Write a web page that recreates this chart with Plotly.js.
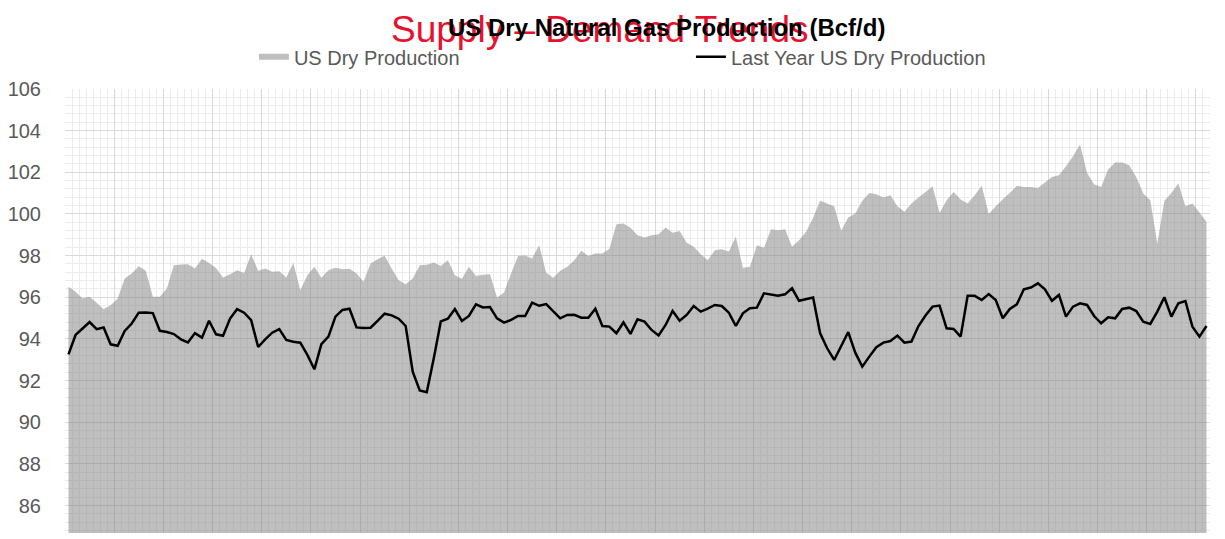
<!DOCTYPE html>
<html>
<head>
<meta charset="utf-8">
<script src="https://cdn.plot.ly/plotly-3.0.1.min.js"></script>
<style>html,body{margin:0;padding:0;background:#fff;}#chart{width:1225px;height:539px;}</style>
</head>
<body>
<div id="chart"></div>
<script>
// US Dry Production (Bcf/d), one value per period
const usDryProduction = [
96.5, 96.26, 95.94, 96.02, 95.74, 95.43, 95.62, 95.94, 96.9, 97.14,
97.49, 97.27, 96.02, 96.02, 96.42, 97.54, 97.57, 97.59, 97.38, 97.85,
97.65, 97.41, 96.95, 97.11, 97.3, 97.17, 98.07, 97.27, 97.38, 97.22,
97.25, 96.95, 97.65, 96.34, 97.06, 97.46, 96.94, 97.3, 97.42, 97.34,
97.37, 97.14, 96.74, 97.62, 97.83, 97.99, 97.38, 96.82, 96.63, 96.9,
97.54, 97.56, 97.67, 97.5, 97.78, 97.06, 96.89, 97.46, 97.02, 97.08,
97.1, 95.99, 96.23, 97.14, 97.98, 98.0, 97.86, 98.5, 97.18, 96.94,
97.27, 97.46, 97.78, 98.23, 97.98, 98.1, 98.1, 98.33, 99.51, 99.54,
99.34, 98.98, 98.87, 98.98, 99.03, 99.35, 99.1, 99.18, 98.62, 98.42,
98.06, 97.78, 98.26, 98.3, 98.2, 98.9, 97.42, 97.46, 98.5, 98.38,
99.26, 99.22, 99.27, 98.42, 98.74, 99.14, 99.82, 100.63, 100.5, 100.37,
99.19, 99.83, 100.02, 100.63, 101.01, 100.95, 100.79, 100.9, 100.37, 100.1,
100.5, 100.79, 101.06, 101.33, 100.06, 100.66, 101.05, 100.69, 100.5, 100.9,
101.35, 100.0, 100.37, 100.71, 101.01, 101.35, 101.3, 101.29, 101.25, 101.51,
101.78, 101.86, 102.29, 102.77, 103.33, 101.97, 101.43, 101.3, 102.13, 102.47,
102.47, 102.34, 101.78, 100.98, 100.66, 98.58, 100.63, 101.01, 101.46, 100.37,
100.5, 100.07, 99.62
];
// Last Year US Dry Production (Bcf/d)
const lastYearProduction = [
93.26, 94.19, 94.5, 94.81, 94.47, 94.55, 93.74, 93.67, 94.38, 94.74,
95.26, 95.27, 95.24, 94.39, 94.33, 94.23, 93.98, 93.83, 94.28, 94.06,
94.87, 94.22, 94.15, 94.98, 95.43, 95.26, 94.9, 93.61, 93.98, 94.3,
94.47, 93.95, 93.86, 93.82, 93.23, 92.54, 93.75, 94.11, 95.07, 95.39,
95.45, 94.55, 94.52, 94.54, 94.87, 95.21, 95.13, 94.97, 94.62, 92.43,
91.52, 91.44, 93.07, 94.84, 94.97, 95.43, 94.86, 95.1, 95.66, 95.51,
95.53, 94.99, 94.78, 94.91, 95.1, 95.1, 95.74, 95.59, 95.67, 95.31,
94.99, 95.15, 95.16, 95.02, 95.02, 95.45, 94.62, 94.59, 94.27, 94.79,
94.24, 94.94, 94.83, 94.43, 94.17, 94.67, 95.34, 94.87, 95.15, 95.58,
95.31, 95.45, 95.63, 95.58, 95.26, 94.62, 95.23, 95.47, 95.5, 96.19,
96.12, 96.07, 96.14, 96.43, 95.83, 95.9, 95.99, 94.27, 93.55, 92.99,
93.66, 94.33, 93.34, 92.67, 93.15, 93.6, 93.82, 93.9, 94.16, 93.82,
93.87, 94.62, 95.12, 95.55, 95.6, 94.51, 94.48, 94.11, 96.07, 96.07,
95.87, 96.15, 95.87, 94.99, 95.44, 95.66, 96.38, 96.47, 96.67, 96.38,
95.83, 96.11, 95.07, 95.55, 95.71, 95.63, 95.1, 94.75, 95.04, 94.99,
95.44, 95.5, 95.34, 94.83, 94.72, 95.31, 96.0, 95.07, 95.71, 95.82,
94.59, 94.11, 94.62
];
// period index (category positions)
const periods = usDryProduction.map((_, i) => i);
const yTickValues = [86, 88, 90, 92, 94, 96, 98, 100, 102, 104, 106];

const FONT = 'Liberation Sans, Arial, sans-serif';

const traces = [
  {
    type: 'scatter', x: periods, y: usDryProduction, name: 'US Dry Production',
    mode: 'none', fill: 'tozeroy', fillcolor: 'rgba(127,127,127,0.5)',
    hoverinfo: 'skip'
  },
  {
    type: 'scatter', x: periods, y: lastYearProduction, name: 'Last Year US Dry Production',
    mode: 'lines', line: {color: '#000000', width: 2.5}
  }
];

const layout = {
  width: 1225, height: 539,
  margin: {l: 65, r: 15, t: 89, b: 6, pad: 0},
  paper_bgcolor: '#ffffff', plot_bgcolor: '#ffffff',
  font: {family: FONT, color: '#595959', size: 20},
  showlegend: true,
  legend: {
    orientation: 'h', x: 0.165, xanchor: 'left', y: 1.0725, yanchor: 'middle',
    font: {family: FONT, size: 20, color: '#595959'},
    entrywidth: 392, entrywidthmode: 'pixels',
    bgcolor: 'rgba(0,0,0,0)', itemclick: false
  },
  title: {text: ''},
  xaxis: {
    range: [-0.5, periods.length - 0.5],
    showticklabels: false, ticks: '', zeroline: false, showline: false,
    tick0: -0.5, dtick: 7, showgrid: true, gridcolor: '#d9d9d9', gridwidth: 1,
    minor: {tick0: -0.5, dtick: 1, showgrid: true, gridcolor: '#ececec', gridwidth: 1}
  },
  yaxis: {
    range: [84.68, 106],
    tickmode: 'array', tickvals: yTickValues, ticktext: yTickValues.map(String),
    ticks: 'outside', ticklen: 19, tickcolor: 'rgba(0,0,0,0)',
    tickfont: {family: FONT, size: 20, color: '#595959'},
    zeroline: false, showline: false,
    showgrid: true, gridcolor: '#d9d9d9', gridwidth: 1,
    minor: {tick0: 0, dtick: 0.4, showgrid: true, gridcolor: '#ececec', gridwidth: 1}
  },
  annotations: [
    {
      text: 'Supply – Demand Trends', xref: 'paper', yref: 'paper',
      x: 0.467, y: 1.1345, xanchor: 'center', yanchor: 'middle', showarrow: false,
      font: {family: FONT, size: 37, color: '#e8112d'}
    },
    {
      text: '<b>US Dry Natural Gas Production (Bcf/d)</b>', xref: 'paper', yref: 'paper',
      x: 0.525, y: 1.139, xanchor: 'center', yanchor: 'middle', showarrow: false,
      font: {family: FONT, size: 24, color: '#000000'}
    }
  ]
};

Plotly.newPlot('chart', traces, layout, {displayModeBar: false, staticPlot: true});
</script>
</body>
</html>
